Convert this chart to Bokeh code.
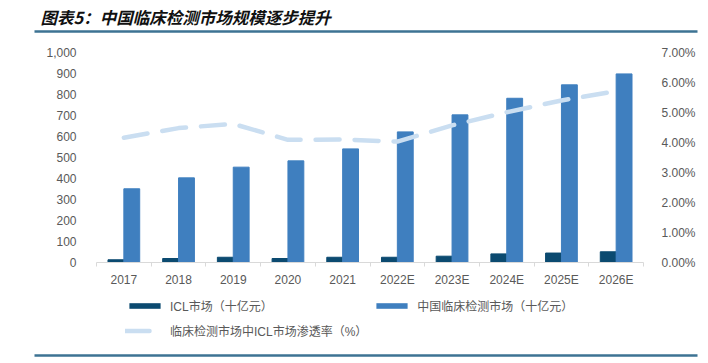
from bokeh.plotting import figure
from bokeh.layouts import column
from bokeh.models import (Range1d, LinearAxis, FixedTicker, NumeralTickFormatter,
                          Legend, LegendItem, ColumnDataSource)
from bokeh.transform import dodge
from bokeh.core.properties import value
from bokeh.embed import file_html
from bokeh.resources import INLINE

# ---- data ----
years = ["2017", "2018", "2019", "2020", "2021", "2022E", "2023E", "2024E", "2025E", "2026E"]
icl_market = [13, 19, 25, 19, 25, 25, 30, 41, 45, 51]
china_market = [351, 403, 454, 484, 541, 622, 703, 782, 846, 898]
icl_share_pct = [4.16, 4.48, 4.62, 4.09, 4.10, 4.03, 4.57, 5.01, 5.40, 5.71]
left_ticks = [0, 100, 200, 300, 400, 500, 600, 700, 800, 900, 1000]
right_ticks_pct = [0, 1, 2, 3, 4, 5, 6, 7]

title_text = "图表5：中国临床检测市场规模逐步提升"
legend_labels = ["ICL市场（十亿元）", "中国临床检测市场（十亿元）", "临床检测市场中ICL市场渗透率（%）"]

DARK = "#0b4a70"
BLUE = "#3f7fbf"
LIGHT = "#cadef1"
GREY = "#595959"
RULE = "#3d7393"
FONT = "Liberation Sans, Noto Sans CJK SC"

W = 708
TOP_H, MAIN_H, BOT_H = 38, 252, 73

BAR_STYLE_ICL = dict(fill_color=DARK, line_color=DARK)
BAR_STYLE_CHINA = dict(fill_color=BLUE, line_color=BLUE)
LINE_STYLE = dict(line_color=LIGHT, line_width=4.5, line_dash="24 15", line_cap="round")


def blank_fig(h):
    f = figure(width=W, height=h, output_backend="svg", toolbar_location=None,
               x_range=Range1d(0, W), y_range=Range1d(h, 0),
               x_axis_type=None, y_axis_type=None, min_border=0,
               outline_line_color=None, frame_align=False)
    f.xgrid.visible = False
    f.ygrid.visible = False
    return f


# ---- header: title + rule ----
top = blank_fig(TOP_H)
top.text(x=[40], y=[16], text=[title_text], text_font=value("Noto Sans CJK SC"),
         text_font_style="bold italic", text_font_size="16.5px", text_color="#111111",
         text_baseline="middle", text_align="left")
top.segment(x0=[34], y0=[31], x1=[697], y1=[31], line_color=RULE, line_width=2.5)

# ---- main chart ----
idx = list(range(len(years)))
src = ColumnDataSource(dict(
    x=idx,
    icl=icl_market,
    china=china_market,
    pct=[v / 100 for v in icl_share_pct],
))

p = figure(width=W, height=MAIN_H, output_backend="svg", toolbar_location=None,
           x_range=Range1d(-0.5, len(years) - 0.5), y_range=Range1d(0, 1000),
           min_border_left=96, min_border_right=65, min_border_top=14, min_border_bottom=28,
           outline_line_color=None, frame_align=False)
p.extra_y_ranges = {"pct": Range1d(0, 0.07)}
p.xgrid.visible = False
p.ygrid.visible = False

p.vbar(x=dodge("x", -0.145, range=p.x_range), top="icl", width=0.29, source=src, **BAR_STYLE_ICL)
p.vbar(x=dodge("x", 0.145, range=p.x_range), top="china", width=0.29, source=src, **BAR_STYLE_CHINA)
p.line(x="x", y="pct", source=src, y_range_name="pct", **LINE_STYLE)

xa = p.xaxis[0]
xa.ticker = FixedTicker(ticks=idx, minor_ticks=[i - 0.5 for i in range(len(years) + 1)])
xa.major_label_overrides = {i: y for i, y in zip(idx, years)}
xa.major_tick_out = 0
xa.major_tick_in = 0
xa.minor_tick_out = 4
xa.minor_tick_in = 0
xa.minor_tick_line_color = "#d9d9d9"
xa.axis_line_color = "#d9d9d9"
xa.major_label_standoff = 6
xa.major_label_text_font = FONT
xa.major_label_text_font_size = "12px"
xa.major_label_text_color = GREY

ya = p.yaxis[0]
ya.ticker = FixedTicker(ticks=left_ticks)
ya.formatter = NumeralTickFormatter(format="0,0")
ya.axis_line_color = None
ya.major_tick_line_color = None
ya.minor_tick_line_color = None
ya.major_label_standoff = 14
ya.major_label_text_font = FONT
ya.major_label_text_font_size = "12px"
ya.major_label_text_color = GREY

ra = LinearAxis(y_range_name="pct", ticker=FixedTicker(ticks=[t / 100 for t in right_ticks_pct]),
                formatter=NumeralTickFormatter(format="0.00%"))
ra.axis_line_color = None
ra.major_tick_line_color = None
ra.minor_tick_line_color = None
ra.major_label_standoff = 12
ra.major_label_text_font = FONT
ra.major_label_text_font_size = "12px"
ra.major_label_text_color = GREY
p.add_layout(ra, "right")

# ---- footer: legend + rule ----
# legend swatches come from renderers of the same series mapped to an off-screen range
bot = blank_fig(BOT_H)
bot.extra_y_ranges = {"off": Range1d(10000, 20000)}
g_icl = bot.vbar(x="x", top="icl", width=0.29, source=src, y_range_name="off",
                 fill_color=DARK, line_color=None)
g_china = bot.vbar(x="x", top="china", width=0.29, source=src, y_range_name="off",
                   fill_color=BLUE, line_color=None)
g_line = bot.line(x="x", y="pct", source=src, y_range_name="off", **LINE_STYLE)

legend = Legend(items=[LegendItem(label=legend_labels[0], renderers=[g_icl]),
                       LegendItem(label=legend_labels[1], renderers=[g_china]),
                       LegendItem(label=legend_labels[2], renderers=[g_line])],
                orientation="horizontal", ncols=2, location=(125, 23),
                margin=0, padding=0, spacing=5, label_height=20, glyph_height=7,
                glyph_width=39, label_standoff=6, border_line_color=None,
                background_fill_alpha=0, label_text_font=FONT,
                label_text_font_size="12px", label_text_color=GREY)
bot.add_layout(legend, "center")
bot.segment(x0=[34], y0=[65], x1=[697], y1=[65], line_color=RULE, line_width=2.5)

layout = column(top, p, bot, spacing=0)
open("out.html", "w").write(file_html(layout, INLINE))
